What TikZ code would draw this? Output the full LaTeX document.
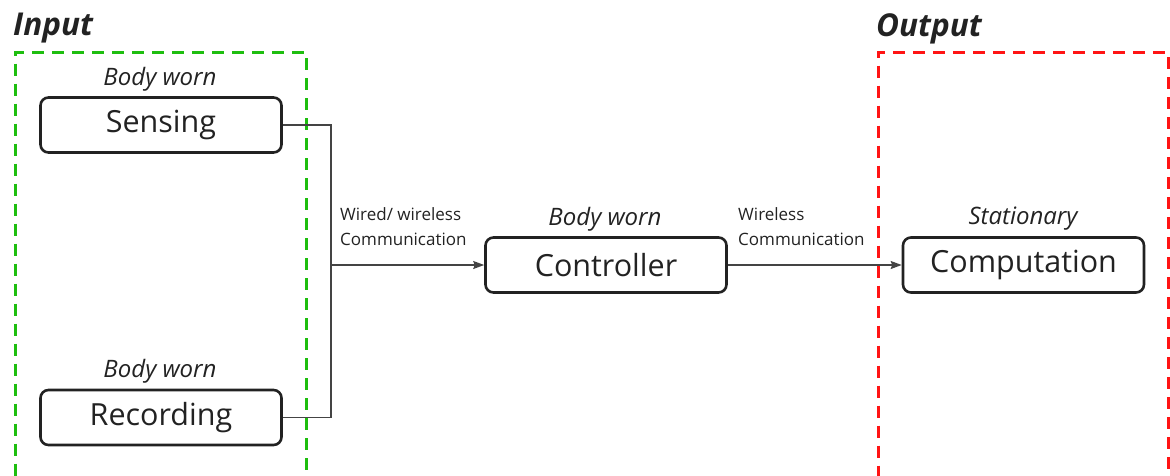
\documentclass[tikz,border=0pt]{standalone}
\usepackage{fontspec}
\setmainfont{Open Sans}
\usetikzlibrary{arrows.meta}
\definecolor{inkgray}{HTML}{222222}
\definecolor{linkgray}{HTML}{444444}
\definecolor{zonegreen}{HTML}{1EBE0F}
\definecolor{zonered}{HTML}{FF1414}
\begin{document}
\begin{tikzpicture}[x=1pt,y=-1pt,
  stagebox/.style={draw=inkgray, line width=2.6pt, rounded corners=8pt,
    minimum width=241pt, minimum height=55pt, inner sep=0pt,
    font=\fontsize{30.5}{36}\selectfont, text=inkgray},
  tagtext/.style={font=\fontsize{24}{28}\selectfont\itshape, text=inkgray, inner sep=0pt},
  linktext/.style={font=\fontsize{17}{25}\selectfont, text=inkgray, align=left,
    anchor=west, inner sep=0pt},
  zonetitle/.style={font=\fontsize{31.5}{36}\selectfont\bfseries\itshape, text=inkgray,
    anchor=west, inner sep=0pt},
  zone/.style={line width=3pt, dash pattern=on 12pt off 8pt, anchor=north west,
    inner sep=0pt, outer sep=0pt},
  link/.style={draw=linkgray, line width=1.4pt},
  ]
  \useasboundingbox (0,0) rectangle (1170,475);

  % input / output zones (their lower edges run just below the frame)
  \node[zone, draw=zonegreen, minimum width=291pt, minimum height=426.5pt] (inputzone) at (15,52) {};
  \node[zone, draw=zonered, minimum width=290pt, minimum height=426.5pt] (outputzone) at (878,52) {};
  \node[zonetitle] (inputtitle) at (13,28.5) {Input};
  \node[zonetitle] (outputtitle) at (876,28.5) {Output};

  % processing stages
  \node[stagebox] (sensing) at (161,125) {Sensing};
  \node[stagebox] (recording) at (161,417.5) {Recording};
  \node[stagebox] (controller) at (606,265) {Controller};
  \node[stagebox] (computation) at (1023.5,265) {Computation};

  % placement tags
  \node[tagtext] (tagsensing) at (160,79) {Body worn};
  \node[tagtext] (tagrecording) at (160,371) {Body worn};
  \node[tagtext] (tagcontroller) at (605,219) {Body worn};
  \node[tagtext] (tagcomputation) at (1023,219) {Stationary};

  % connections
  \coordinate (bus) at (331,265);
  \draw[link] (sensing.east) -| (bus) |- (recording.east);
  \draw[link, -{Stealth[length=11pt, width=8pt, inset=1.5pt]}] (bus) -- (controller.west);
  \draw[link, -{Stealth[length=11pt, width=8pt, inset=1.5pt]}] (controller.east) -- (computation.west);

  \node[linktext] (wiredlabel) at (340,227) {Wired/ wireless\\Communication};
  \node[linktext] (wirelesslabel) at (738,227) {Wireless\\Communication};
\end{tikzpicture}
\end{document}
